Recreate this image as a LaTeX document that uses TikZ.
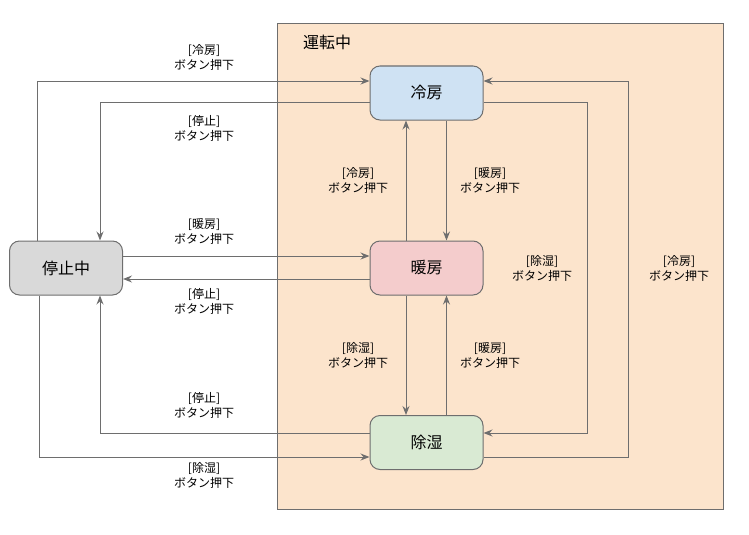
\documentclass[tikz,border=0pt]{standalone}
\usepackage{fontspec}
\setmainfont{Noto Sans CJK JP}
\usetikzlibrary{arrows.meta}
\definecolor{runfill}{HTML}{FCE4CC}
\definecolor{coolfill}{HTML}{CFE2F3}
\definecolor{heatfill}{HTML}{F4CCCC}
\definecolor{dryfill}{HTML}{D9EAD3}
\definecolor{stopfill}{HTML}{D9D9D9}
\definecolor{edgecol}{HTML}{6E6E6E}
\tikzset{
  statebox/.style={draw=edgecol, line width=1pt, rounded corners=10pt, minimum width=113pt, minimum height=54pt, inner sep=0pt, font=\fontsize{16}{19}\selectfont},
  trlabel/.style={align=center, inner sep=0pt, font=\fontsize{12}{15}\selectfont},
  arr/.style={draw=edgecol, line width=1pt, -{Stealth[length=9pt,width=7pt,inset=3pt]}},
}
\begin{document}
\begin{tikzpicture}[x=1pt,y=-1pt]
\useasboundingbox (0,0) rectangle (749,535);
\node[draw=edgecol, fill=runfill, line width=1pt, minimum width=446pt, minimum height=485pt, inner sep=0pt] (run) at (500.5,266.5) {};
\node[font=\fontsize{16}{19}\selectfont, inner sep=0pt] (runlabel) at (327,42) {運転中};
\node[statebox, fill=coolfill] (cool) at (426.5,93) {冷房};
\node[statebox, fill=heatfill] (heat) at (426.5,268) {暖房};
\node[statebox, fill=dryfill] (dry) at (426.5,442.5) {除湿};
\node[statebox, fill=stopfill] (stop) at (66,268) {停止中};
% stop <-> cool
\draw[arr] ([xshift=-29pt]stop.north) |- ([yshift=12pt]cool.west);
\draw[arr] ([yshift=-9pt]cool.west) -| ([xshift=34pt]stop.north);
% stop <-> heat
\draw[arr] ([yshift=12pt]stop.east) -- ([yshift=12pt]heat.west);
\draw[arr] ([yshift=-11pt]heat.west) -- ([yshift=-11pt]stop.east);
% stop <-> dry
\draw[arr] ([yshift=9.5pt]dry.west) -| ([xshift=34pt]stop.south);
\draw[arr] ([xshift=-27pt]stop.south) |- ([yshift=-14.5pt]dry.west);
% cool <-> heat
\draw[arr] ([xshift=-20.5pt]heat.north) -- ([xshift=-20.5pt]cool.south);
\draw[arr] ([xshift=20pt]cool.south) -- ([xshift=20pt]heat.north);
% heat <-> dry
\draw[arr] ([xshift=-20.5pt]heat.south) -- ([xshift=-20.5pt]dry.north);
\draw[arr] ([xshift=20pt]dry.north) -- ([xshift=20pt]heat.south);
% cool <-> dry
\draw[arr] ([yshift=-9pt]cool.east) -| ([xshift=104pt,yshift=9.5pt]dry.east) -- ([yshift=9.5pt]dry.east);
\draw[arr] ([yshift=-14.5pt]dry.east) -| ([xshift=145pt,yshift=12pt]cool.east) -- ([yshift=12pt]cool.east);
% labels
\node[trlabel] (l1) at (204,57) {[冷房]\\ボタン押下};
\node[trlabel] (l2) at (204,128) {[停止]\\ボタン押下};
\node[trlabel] (l3) at (204,231) {[暖房]\\ボタン押下};
\node[trlabel] (l4) at (204,301.5) {[停止]\\ボタン押下};
\node[trlabel] (l5) at (204,405) {[停止]\\ボタン押下};
\node[trlabel] (l6) at (204,475) {[除湿]\\ボタン押下};
\node[trlabel] (l7) at (358,180) {[冷房]\\ボタン押下};
\node[trlabel] (l8) at (490,180) {[暖房]\\ボタン押下};
\node[trlabel] (l9) at (358,355) {[除湿]\\ボタン押下};
\node[trlabel] (l10) at (490,355) {[暖房]\\ボタン押下};
\node[trlabel] (l11) at (542,268) {[除湿]\\ボタン押下};
\node[trlabel] (l12) at (679,268) {[冷房]\\ボタン押下};
\end{tikzpicture}
\end{document}
